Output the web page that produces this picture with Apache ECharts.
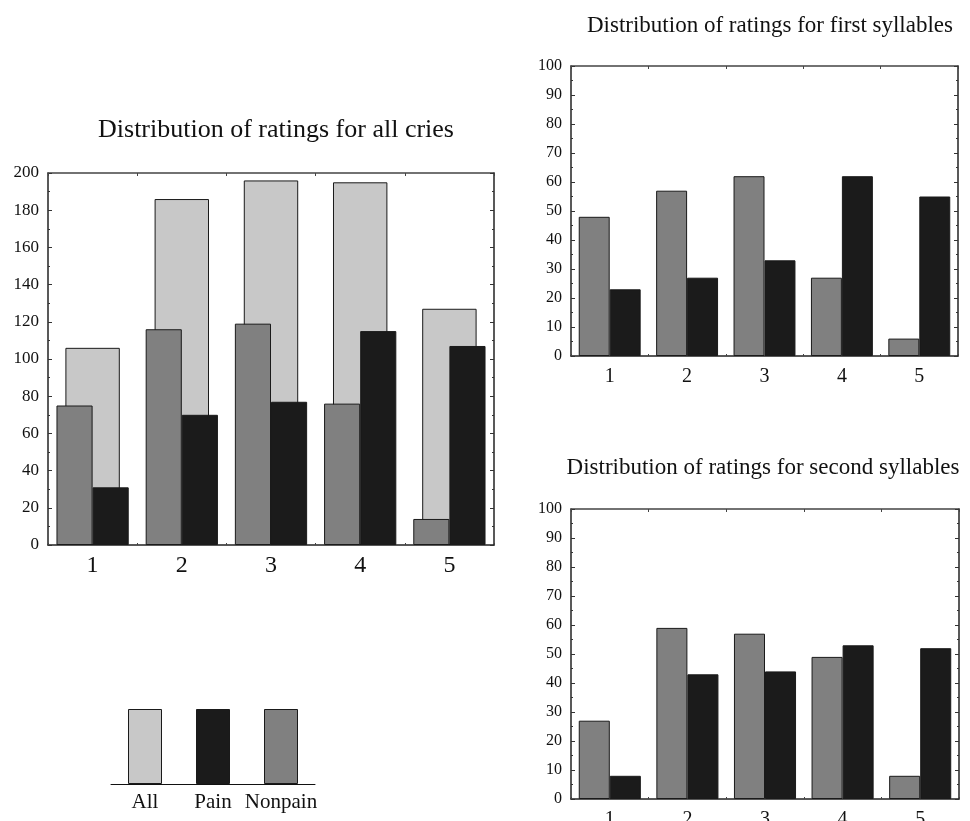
<!DOCTYPE html>
<html>
<head>
<meta charset="utf-8">
<script src="https://cdn.jsdelivr.net/npm/echarts@6/dist/echarts.min.js"></script>
<style>
html,body{margin:0;padding:0;background:#fff;}
#chart{width:970px;height:821px;}
</style>
</head>
<body>
<div id="chart"></div>
<script>
// ---- data ----
const categories = ['1', '2', '3', '4', '5'];
const allCriesAll = [106, 186, 196, 195, 127];
const allCriesNonpain = [75, 116, 119, 76, 14];
const allCriesPain = [31, 70, 77, 115, 107];
const firstNonpain = [48, 57, 62, 27, 6];
const firstPain = [23, 27, 33, 62, 55];
const secondNonpain = [27, 59, 57, 49, 8];
const secondPain = [8, 43, 44, 53, 52];
const legendKeys = ['All', 'Pain', 'Nonpain'];
const legendHeights = [1, 1, 1];
const titles = ['Distribution of ratings for all cries', 'Distribution of ratings for first syllables', 'Distribution of ratings for second syllables'];

// ---- styles ----
const FONT = '"Liberation Serif", "Times New Roman", serif';
const C_ALL = '#c8c8c8', C_PAIN = '#1b1b1b', C_NON = '#808080';
const legendColors = [C_ALL, C_PAIN, C_NON];
const BORDER = '#1a1a1a';

const grids = [
  { left: 48, top: 173, width: 446, height: 372 },
  { left: 571, top: 66, width: 387, height: 290 },
  { left: 571, top: 509, width: 388, height: 290 },
  { left: 111, top: 709, width: 204, height: 75 }
];

function bottomX(gi, fs, margin) {
  return {
    type: 'category', gridIndex: gi, data: categories, position: 'bottom',
    axisLine: { show: true, lineStyle: { color: '#222', width: 1.5 } },
    axisTick: { show: true, inside: true, length: 2, lineStyle: { color: '#444' } },
    axisLabel: { fontFamily: FONT, fontSize: fs, color: '#111', margin: margin, interval: 0 },
    splitLine: { show: false }
  };
}
function topX(gi) {
  return {
    type: 'category', gridIndex: gi, data: categories, position: 'top',
    axisLine: { show: true, onZero: false, lineStyle: { color: '#444', width: 1.5 } },
    axisTick: { show: true, inside: true, length: 3, lineStyle: { color: '#444' } },
    axisLabel: { show: false }, splitLine: { show: false }
  };
}
function yAx(gi, max, interval, pos, labels, fs) {
  return {
    type: 'value', gridIndex: gi, min: 0, max: max, interval: interval, position: pos,
    axisLine: { show: true, lineStyle: { color: '#222', width: 1.5 } },
    axisTick: { show: true, inside: true, length: 4, lineStyle: { color: '#333' } },
    minorTick: { show: true, splitNumber: 2, length: 2, lineStyle: { color: '#333' } },
    axisLabel: { show: labels, fontFamily: FONT, fontSize: fs, color: '#111', margin: 9 },
    splitLine: { show: false }
  };
}

const xAxes = [
  bottomX(0, 24, 9), topX(0),
  bottomX(1, 20, 11), topX(1),
  bottomX(2, 20, 11), topX(2),
  {
    type: 'category', gridIndex: 3, data: legendKeys,
    axisLine: { show: true, lineStyle: { color: '#111', width: 1 } },
    axisTick: { show: false },
    axisLabel: { fontFamily: FONT, fontSize: 21, color: '#111', margin: 8, interval: 0, hideOverlap: false }
  }
];
const yAxes = [
  yAx(0, 200, 20, 'left', true, 17), yAx(0, 200, 20, 'right', false, 17),
  yAx(1, 100, 10, 'left', true, 16), yAx(1, 100, 10, 'right', false, 16),
  yAx(2, 100, 10, 'left', true, 16), yAx(2, 100, 10, 'right', false, 16),
  { type: 'value', gridIndex: 3, min: 0, max: 1, show: false }
];

function bar(name, data, xi, yi, color, width) {
  return {
    name: name, type: 'bar', data: data, xAxisIndex: xi, yAxisIndex: yi,
    barWidth: width, barGap: '0%',
    itemStyle: { color: color, borderColor: BORDER, borderWidth: 1 },
    silent: true, animation: false
  };
}

const series = [
  bar('All', allCriesAll, 1, 0, C_ALL, '61%'),
  bar('Nonpain', allCriesNonpain, 0, 0, C_NON, '40.5%'),
  bar('Pain', allCriesPain, 0, 0, C_PAIN, '40.5%'),
  bar('Nonpain', firstNonpain, 2, 2, C_NON, '40%'),
  bar('Pain', firstPain, 2, 2, C_PAIN, '40%'),
  bar('Nonpain', secondNonpain, 4, 4, C_NON, '40%'),
  bar('Pain', secondPain, 4, 4, C_PAIN, '40%'),
  {
    type: 'bar', xAxisIndex: 6, yAxisIndex: 6, barWidth: '50%', silent: true, animation: false,
    data: legendHeights.map((v, i) => ({ value: v, itemStyle: { color: legendColors[i], borderColor: BORDER, borderWidth: 1 } }))
  }
];

const option = {
  backgroundColor: '#fff',
  animation: false,
  title: [
    { text: titles[0], left: 271, top: 112, textAlign: 'center', textStyle: { fontFamily: FONT, fontSize: 26, fontWeight: 'normal', color: '#111' } },
    { text: titles[1], left: 765, top: 9, textAlign: 'center', textStyle: { fontFamily: FONT, fontSize: 23, fontWeight: 'normal', color: '#111' } },
    { text: titles[2], left: 758, top: 451, textAlign: 'center', textStyle: { fontFamily: FONT, fontSize: 23, fontWeight: 'normal', color: '#111' } }
  ],
  grid: grids.map(g => Object.assign({ containLabel: false, outerBoundsMode: 'none' }, g)),
  xAxis: xAxes,
  yAxis: yAxes,
  series: series
};

const chart = echarts.init(document.getElementById('chart'), null, { renderer: 'canvas' });
chart.setOption(option);
</script>
</body>
</html>
